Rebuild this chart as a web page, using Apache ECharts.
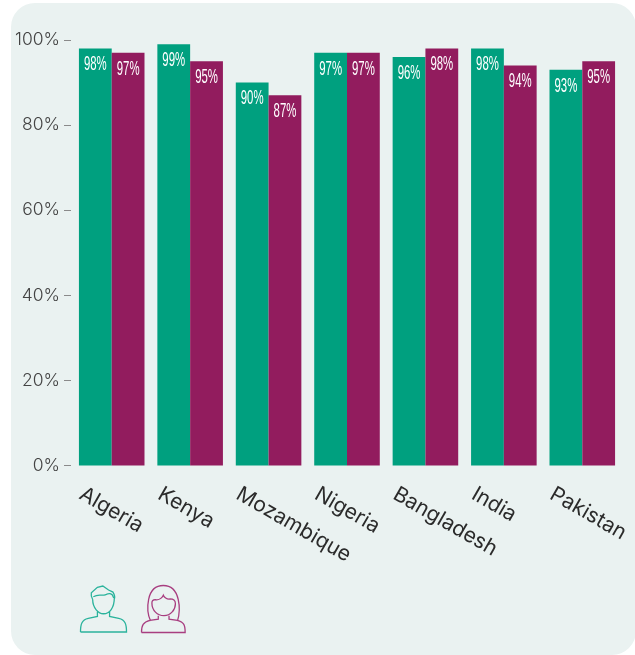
<!DOCTYPE html>
<html>
<head>
<meta charset="utf-8">
<style>html,body{margin:0;padding:0;background:#fff}#chart{width:635px;height:655px}</style>
<script src="https://cdn.jsdelivr.net/npm/echarts@6/dist/echarts.min.js"></script>
</head>
<body>
<div id="chart"></div>
<script>
// Share of boys and girls per country, in percent
const countries = ['Algeria', 'Kenya', 'Mozambique', 'Nigeria', 'Bangladesh', 'India', 'Pakistan'];
const boys = [98, 99, 90, 97, 96, 98, 93];
const girls = [97, 95, 87, 97, 98, 94, 95];
const yTicks = [0, 20, 40, 60, 80, 100];

const GREEN = '#00a07f';
const MAROON = '#921c5e';
const BAR_SHARE = 0.418;

// Outline portraits used as legend symbols
const BOY_ICON = 'path://M62 186 H198 C198 165 195 150 175 146 L148 140 V126 M62 186 C62 165 65 150 85 146 L112 140 V126 M98 90 C98 115 115 132 130 132 C148 132 162 115 162 85 M98 90 C92 80 94 70 94 70 L112 54 L128 50 L145 62 L158 68 C164 78 164 84 162 88 M100 82 C115 72 125 80 135 76 C145 72 155 68 160 85';
const GIRL_ICON = 'path://M272 152 C258 120 258 46 310 46 C362 46 362 120 352 152 M276 98 C276 120 292 136 312 136 C332 136 346 118 346 100 C346 90 340 86 330 86 C320 88 312 80 310 75 C306 84 296 90 286 88 C280 88 276 92 276 98 M245 186 H375 C375 165 372 155 352 150 L327 146 V136 M245 186 C245 165 250 155 270 150 L295 146 V136';

// Narrow value label: squeezed horizontally, stretched vertically, hung under the bar top
function valueLabel(side) {
  return function (params, api) {
    const idx = api.value(0);
    const val = api.value(1);
    const p = api.coord([idx, val]);
    const band = api.size([1, 0])[0];
    return {
      type: 'text',
      x: p[0] + side * band * BAR_SHARE / 2,
      y: p[1] + 5.5,
      scaleX: 0.76,
      scaleY: 1.4,
      style: {
        text: val + '%',
        fill: '#fff',
        font: '15px "Liberation Sans"',
        align: 'center',
        verticalAlign: 'top'
      }
    };
  };
}

const chart = echarts.init(document.getElementById('chart'), null, { renderer: 'canvas' });
chart.setOption({
  animation: false,
  backgroundColor: '#fff',
  grid: { left: 72.5, right: 13.5, top: 40, bottom: 189.5, containLabel: false },
  legend: {
    left: 78,
    top: 583,
    padding: 0,
    itemGap: 10,
    itemWidth: 46,
    itemHeight: 47,
    formatter: () => '',
    selectedMode: false,
    data: [
      { name: 'Boys', icon: BOY_ICON, itemStyle: { color: 'none', borderColor: '#2bb39c', borderWidth: 1.3 } },
      { name: 'Girls', icon: GIRL_ICON, itemStyle: { color: 'none', borderColor: '#a83e80', borderWidth: 1.3 } }
    ]
  },
  xAxis: [
    {
      type: 'category',
      data: countries,
      axisLine: { show: false },
      axisTick: { show: false },
      axisLabel: { show: false }
    },
    {
      // Band-edge axis: carries the slanted country names
      type: 'category',
      position: 'bottom',
      boundaryGap: false,
      data: countries.concat(['']),
      axisLine: { show: false },
      axisTick: { show: false },
      axisLabel: {
        interval: 0,
        rotate: -30,
        align: 'left',
        verticalAlign: 'middle',
        margin: 22,
        padding: [0, 0, 0, 10],
        color: '#2b2b2b',
        fontFamily: 'Inter',
        fontWeight: 400,
        fontSize: 21
      }
    }
  ],
  yAxis: {
    type: 'value',
    offset: 1.5,
    min: yTicks[0],
    max: yTicks[yTicks.length - 1],
    interval: 20,
    splitLine: { show: false },
    axisLine: { show: false },
    axisTick: { show: true, length: 7, lineStyle: { color: '#8a8a8a', width: 1 } },
    axisLabel: {
      margin: 11,
      padding: [3, 0, 0, 0],
      formatter: '{value}%',
      color: '#444',
      fontFamily: 'Inter',
      fontWeight: 300,
      fontSize: 17.5
    }
  },
  series: [
    { name: 'Boys', type: 'bar', xAxisIndex: 0, data: boys, barWidth: BAR_SHARE * 100 + '%', barGap: 0, itemStyle: { color: GREEN } },
    { name: 'Girls', type: 'bar', xAxisIndex: 0, data: girls, barWidth: BAR_SHARE * 100 + '%', barGap: 0, itemStyle: { color: MAROON } },
    { type: 'custom', xAxisIndex: 0, z: 5, silent: true, renderItem: valueLabel(-1), data: boys.map((v, i) => [i, v]) },
    { type: 'custom', xAxisIndex: 0, z: 5, silent: true, renderItem: valueLabel(1), data: girls.map((v, i) => [i, v]) }
  ],
  graphic: [
    {
      type: 'rect', z: 0, silent: true,
      shape: { x: 11, y: 3, width: 625, height: 652, r: 24 },
      style: { fill: '#eaf2f1' }
    }
  ]
});
</script>
</body>
</html>
